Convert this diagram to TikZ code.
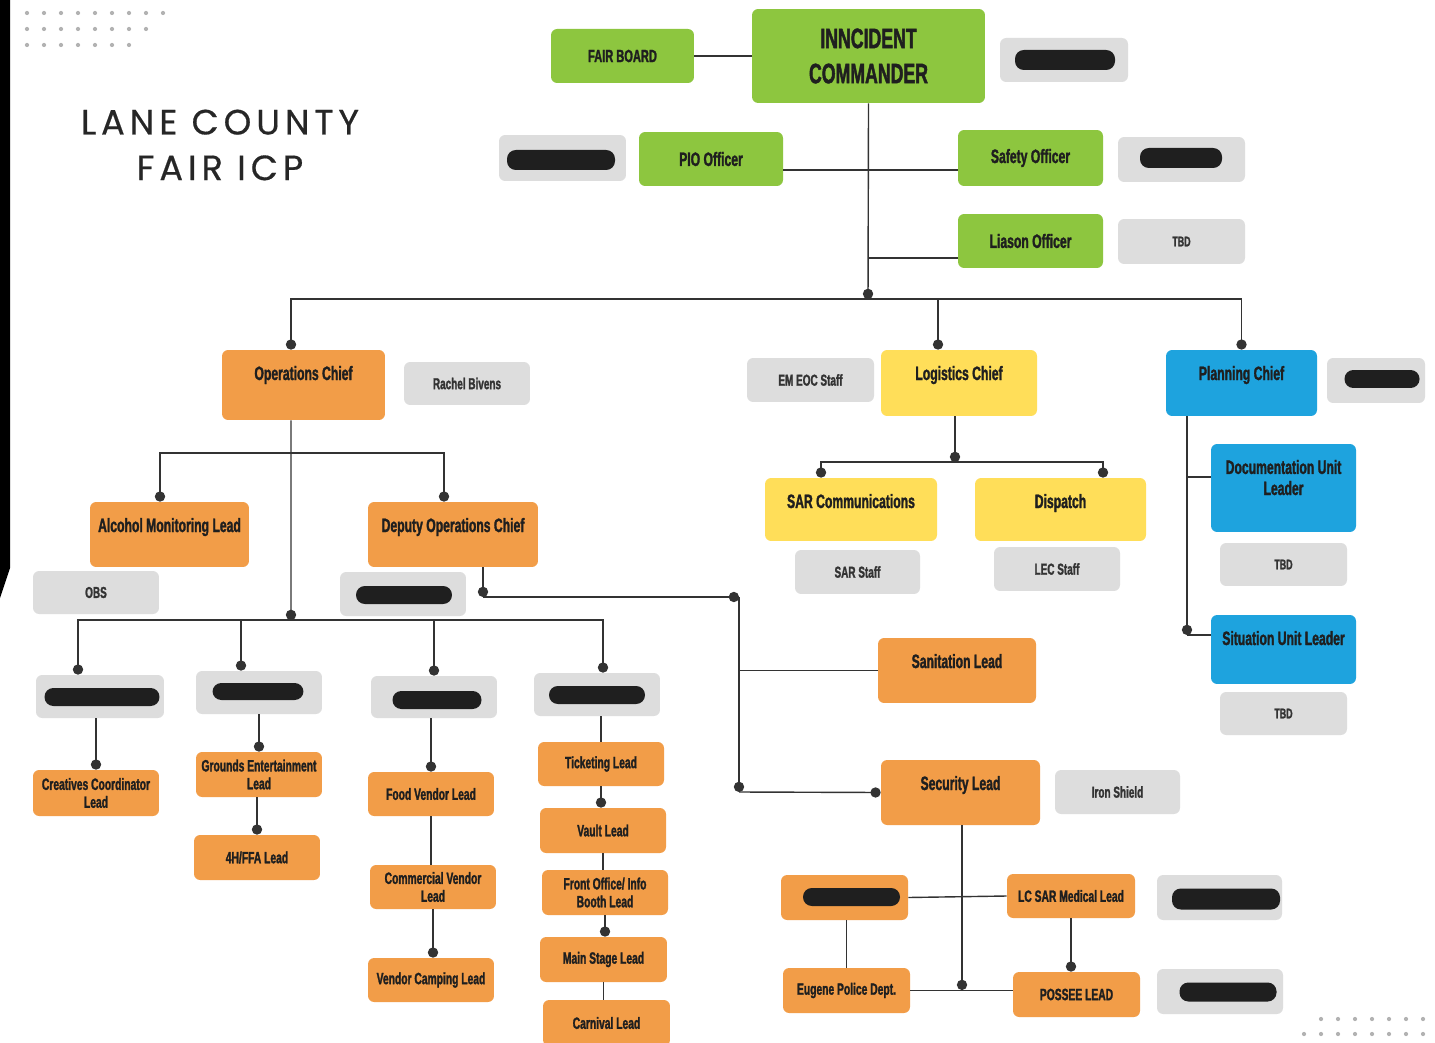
\documentclass[tikz,border=0pt]{standalone}
\usepackage{fontspec}
\usepackage{xcolor}
\usepackage{tikz}
\usetikzlibrary{arrows}
\newfontfamily\boxfont[FakeStretch=0.63, FakeBold=1.5, UprightFont={* Bold}]{Liberation Sans}
\newfontfamily\titlefont[LetterSpace=14, FakeBold=0.5]{Poppins}
\definecolor{grnC}{RGB}{141,198,63}
\definecolor{orgC}{RGB}{242,157,72}
\definecolor{ylwC}{RGB}{255,222,89}
\definecolor{bluC}{RGB}{30,163,222}
\definecolor{gryC}{RGB}{221,221,221}
\newcommand{\bx}{\boxfont\fontsize{11}{12}\selectfont}
\newcommand{\bxs}{\boxfont\fontsize{9.3}{10.2}\selectfont}
\newcommand{\bxg}{\boxfont\fontsize{9}{10}\selectfont}
\newcommand{\bxt}{\boxfont\fontsize{8}{9}\selectfont}
\tikzstyle{box} = [rectangle, rounded corners=3.5pt, inner sep=0pt, align=center, text=black!88, font=\bx]
\tikzstyle{grn} = [box, fill=grnC]
\tikzstyle{org} = [box, fill=orgC]
\tikzstyle{ylw} = [box, fill=ylwC]
\tikzstyle{blu} = [box, fill=bluC]
\tikzstyle{gry} = [box, fill=gryC, text=black!80, font=\bxg]
\tikzstyle{pill} = [rectangle, rounded corners=5pt, fill=black!88, inner sep=0pt]
\tikzstyle{wire} = [draw=black!80, line width=0.8pt]
\tikzstyle{up} = [text height=0.6cm]
\begin{document}
\begin{tikzpicture}[x=0.02cm, y=-0.02cm]
\fill[white] (0,0) rectangle (1435,1043);
\useasboundingbox (0,0) rectangle (1435,1043);
\fill[black] (0,0) -- (10,0) -- (10,568) -- (0,598) -- cycle;
% dotted corners
\foreach \i in {0,...,8} \fill[black!30] (27+17*\i,13) circle (1.2pt);
\foreach \i in {0,...,7} \fill[black!30] (27+17*\i,29) circle (1.2pt);
\foreach \i in {0,...,6} \fill[black!30] (27+17*\i,45) circle (1.2pt);
\foreach \i in {0,...,6} \fill[black!30] (1321+17*\i,1019) circle (1.2pt);
\foreach \i in {0,...,7} \fill[black!30] (1304+17*\i,1034) circle (1.2pt);
\node[font=\titlefont\fontsize{20}{26}\selectfont, text=black!85, align=center] (title) at (220,145) {LANE COUNTY\\FAIR ICP};

% command staff
\node[grn, minimum width=2.86cm, minimum height=1.08cm, font=\boxfont\fontsize{10}{11}\selectfont] (fair) at (622.5,56) {FAIR BOARD};
\node[grn, minimum width=4.66cm, minimum height=1.88cm, font=\boxfont\fontsize{16}{20}\selectfont] (ic) at (868.5,56) {INNCIDENT\\COMMANDER};
\node[gry, minimum width=2.56cm, minimum height=0.88cm] (icg) at (1064,60) {};
\node[pill, minimum width=2.0cm, minimum height=0.4cm] (icp) at (1065,60) {};
\node[grn, minimum width=2.88cm, minimum height=1.08cm] (pio) at (711,159) {PIO Officer};
\node[gry, minimum width=2.54cm, minimum height=0.92cm] (piog) at (562.5,158) {};
\node[pill, minimum width=2.16cm, minimum height=0.4cm] (piop) at (561,160) {};
\node[grn, minimum width=2.9cm, minimum height=1.12cm] (safety) at (1030.5,158) {Safety Officer};
\node[gry, minimum width=2.54cm, minimum height=0.9cm] (safetyg) at (1181.5,159.5) {};
\node[pill, minimum width=1.64cm, minimum height=0.4cm] (safetyp) at (1181,158) {};
\node[grn, minimum width=2.9cm, minimum height=1.08cm] (liason) at (1030.5,241) {Liason Officer};
\node[gry, minimum width=2.54cm, minimum height=0.9cm, font=\bxt] (liasong) at (1181.5,241.5) {TBD};

% section chiefs
\node[org, up, text depth=0.8cm, minimum width=3.26cm] (ops) at (303.5,385) {Operations Chief};
\node[gry, minimum width=2.52cm, minimum height=0.86cm] (rachel) at (467,383.5) {Rachel Bivens};
\node[gry, minimum width=2.54cm, minimum height=0.88cm] (emeoc) at (810.5,380) {EM EOC Staff};
\node[ylw, up, text depth=0.72cm, minimum width=3.12cm] (logistics) at (959,383) {Logistics Chief};
\node[blu, up, text depth=0.72cm, minimum width=3.02cm] (planning) at (1241.5,383) {Planning Chief};
\node[gry, minimum width=1.96cm, minimum height=0.9cm] (planningg) at (1376,380.5) {};
\node[pill, minimum width=1.5cm, minimum height=0.36cm] (planningp) at (1382,379) {};

% operations
\node[org, up, text depth=0.7cm, minimum width=3.18cm] (alcohol) at (169.5,534.5) {Alcohol Monitoring Lead};
\node[org, up, text depth=0.7cm, minimum width=3.4cm] (deputy) at (453,534.5) {Deputy Operations Chief};
\node[gry, minimum width=2.52cm, minimum height=0.86cm] (obs) at (96,592.5) {OBS};
\node[gry, minimum width=2.52cm, minimum height=0.88cm] (deputyg) at (403,594) {};
\node[pill, minimum width=1.92cm, minimum height=0.36cm] (deputyp) at (404,595) {};
\node[gry, minimum width=2.56cm, minimum height=0.86cm] (g1) at (100,696.5) {};
\node[pill, minimum width=2.3cm, minimum height=0.36cm] (p1) at (102,697) {};
\node[gry, minimum width=2.52cm, minimum height=0.86cm] (g2) at (259,692.5) {};
\node[pill, minimum width=1.82cm, minimum height=0.34cm] (p2) at (258,691.5) {};
\node[gry, minimum width=2.52cm, minimum height=0.84cm] (g3) at (434,697) {};
\node[pill, minimum width=1.78cm, minimum height=0.36cm] (p3) at (437,700) {};
\node[gry, minimum width=2.52cm, minimum height=0.86cm] (g4) at (597,694.5) {};
\node[pill, minimum width=1.92cm, minimum height=0.36cm] (p4) at (597,695) {};
\node[org, font=\bxs, minimum width=2.52cm, minimum height=0.92cm] (creatives) at (96,793) {Creatives Coordinator\\Lead};
\node[org, font=\bxs, minimum width=2.52cm, minimum height=0.9cm] (grounds) at (259,774.5) {Grounds Entertainment\\Lead};
\node[org, font=\bxs, minimum width=2.52cm, minimum height=0.9cm] (fourh) at (257,857.5) {4H/FFA Lead};
\node[org, font=\bxs, minimum width=2.52cm, minimum height=0.88cm] (food) at (431,794) {Food Vendor Lead};
\node[org, font=\bxs, minimum width=2.52cm, minimum height=0.88cm] (commercial) at (433,887) {Commercial Vendor\\Lead};
\node[org, font=\bxs, minimum width=2.52cm, minimum height=0.88cm] (camping) at (431,980) {Vendor Camping Lead};
\node[org, font=\bxs, minimum width=2.52cm, minimum height=0.88cm] (ticketing) at (601,764) {Ticketing Lead};
\node[org, font=\bxs, minimum width=2.52cm, minimum height=0.9cm] (vault) at (603,830.5) {Vault Lead};
\node[org, font=\bxs, minimum width=2.52cm, minimum height=0.9cm] (front) at (605,892.5) {Front Office/ Info\\Booth Lead};
\node[org, font=\bxs, minimum width=2.54cm, minimum height=0.9cm] (mainstage) at (603.5,959.5) {Main Stage Lead};
\node[org, font=\bxs, minimum width=2.54cm, minimum height=0.92cm] (carnival) at (606.5,1023) {Carnival Lead};

% logistics
\node[ylw, up, text depth=0.66cm, minimum width=3.44cm] (sarcomm) at (851,509.5) {SAR Communications};
\node[ylw, up, text depth=0.66cm, minimum width=3.42cm] (dispatch) at (1060.5,509.5) {Dispatch};
\node[gry, minimum width=2.5cm, minimum height=0.88cm] (sarstaff) at (857.5,572) {SAR Staff};
\node[gry, minimum width=2.52cm, minimum height=0.88cm] (lecstaff) at (1057,569) {LEC Staff};

% planning
\node[blu, text height=1.02cm, text depth=0.74cm, minimum width=2.9cm] (docunit) at (1283.5,488) {Documentation Unit\\Leader};
\node[gry, minimum width=2.54cm, minimum height=0.86cm, font=\bxt] (doctbd) at (1283.5,564.5) {TBD};
\node[blu, up, text depth=0.78cm, minimum width=2.9cm] (situnit) at (1283.5,649.5) {Situation Unit Leader};
\node[gry, minimum width=2.54cm, minimum height=0.86cm, font=\bxt] (sittbd) at (1283.5,713.5) {TBD};

% sanitation and security
\node[org, up, text depth=0.7cm, minimum width=3.16cm] (sanitation) at (957,670.5) {Sanitation Lead};
\node[org, up, text depth=0.7cm, minimum width=3.18cm] (security) at (960.5,792.5) {Security Lead};
\node[gry, minimum width=2.5cm, minimum height=0.88cm] (ironshield) at (1117.5,792) {Iron Shield};
\node[org, minimum width=2.54cm, minimum height=0.9cm] (redorg) at (844.5,897.5) {};
\node[pill, minimum width=1.94cm, minimum height=0.36cm] (redorgp) at (851.5,897) {};
\node[org, font=\bxs, minimum width=2.56cm, minimum height=0.88cm] (lcsar) at (1071,896) {LC SAR Medical Lead};
\node[gry, minimum width=2.5cm, minimum height=0.9cm] (lcsarg) at (1219.5,897.5) {};
\node[pill, minimum width=2.16cm, minimum height=0.42cm] (lcsarp) at (1226,899) {};
\node[org, font=\bxs, minimum width=2.54cm, minimum height=0.9cm] (eugene) at (846.5,990.5) {Eugene Police Dept.};
\node[org, font=\bxs, minimum width=2.54cm, minimum height=0.9cm] (possee) at (1076.5,994.5) {POSSEE LEAD};
\node[gry, minimum width=2.52cm, minimum height=0.9cm] (posseeg) at (1220,991.5) {};
\node[pill, minimum width=1.94cm, minimum height=0.38cm] (posseep) at (1228,992) {};

% command connectors
\coordinate (jc) at (868,299);
\draw[wire] (fair.east) -- (ic.west);
\draw[wire,-*] (ic.south) -- (jc);
\coordinate (pioR) at ([yshift=-0.22cm]pio.east);
\draw[wire] (pioR) -- (pioR -| safety.west);
\coordinate (liL) at ([yshift=-0.34cm]liason.west);
\draw[wire] (liL -| jc) -- (liL);
\draw[wire,-*] (jc) -| ([xshift=-0.25cm]ops.north);
\draw[wire,-*] (jc) -| ([xshift=-0.42cm]logistics.north);
\draw[wire,-*] (jc) -| (planning.north);

% operations connectors
\coordinate (oj1) at (291,453);
\coordinate (oj2) at (291,620);
\draw[wire,-*] ([xshift=-0.25cm]ops.south) -- (oj2);
\draw[wire,-*] (oj1) -| ([xshift=-0.19cm]alcohol.north);
\draw[wire,-*] (oj1) -| ([xshift=-0.18cm]deputy.north);
\draw[wire,-*] (oj2) -| ([xshift=-0.44cm]g1.north);
\draw[wire,-*] (oj2) -| ([xshift=-0.36cm]g2.north);
\draw[wire,-*] (oj2) -| (g3.north);
\draw[wire,-*] (oj2) -| ([xshift=0.12cm]g4.north);
\draw[wire,-*] (creatives.north |- g1.south) -- (creatives.north);
\draw[wire,-*] (grounds.north |- g2.south) -- (grounds.north);
\draw[wire,-*] (fourh.north |- grounds.south) -- (fourh.north);
\draw[wire,-*] (food.north |- g3.south) -- (food.north);
\draw[wire] (food.south) -- (food.south |- commercial.north);
\draw[wire,-*] (commercial.south) -- (commercial.south |- camping.north);
\draw[wire] (ticketing.north |- g4.south) -- (ticketing.north);
\draw[wire,-*] (ticketing.south) -- (ticketing.south |- vault.north);
\draw[wire] (vault.south) -- (vault.south |- front.north);
\draw[wire,-*] (front.south) -- (front.south |- mainstage.north);
\draw[wire] (mainstage.south) -- (mainstage.south |- carnival.north);

% deputy connectors
\coordinate (dj1) at (739,597);
\coordinate (dj2) at (739,792);
\coordinate (depB) at ([xshift=0.6cm]deputy.south);
\draw[wire,-*] (depB) -- (depB |- dj1);
\draw[wire,-*] (depB |- dj1) -- (dj1);
\draw[wire,-*] (dj1) -- (dj2);
\draw[wire,-*] (dj2) -- (security.west);
\draw[wire] (dj1 |- sanitation.west) -- (sanitation.west);

% logistics connectors
\coordinate (lj) at (955,462);
\draw[wire,-*] (lj |- logistics.south) -- (lj);
\draw[wire,-*] (lj) -| ([xshift=-0.6cm]sarcomm.north);
\draw[wire,-*] (lj) -| ([xshift=0.85cm]dispatch.north);

% planning connectors
\coordinate (pj) at (1187,635);
\draw[wire,-*] (pj |- planning.south) -- (pj);
\draw[wire] (pj) -- (pj -| situnit.west);
\coordinate (docL) at ([yshift=0.22cm]docunit.west);
\draw[wire] (docL -| pj) -- (docL);

% security connectors
\coordinate (sj) at (962,990);
\draw[wire,-*] (sj |- security.south) -- (sj);
\draw[wire] (redorg.east) -- (lcsar.west);
\draw[wire] (eugene.east) -- (eugene.east -| possee.west);
\draw[wire] (eugene.north |- redorg.south) -- (eugene.north);
\draw[wire,-*] (lcsar.south) -- (lcsar.south |- possee.north);
\end{tikzpicture}
\end{document}
